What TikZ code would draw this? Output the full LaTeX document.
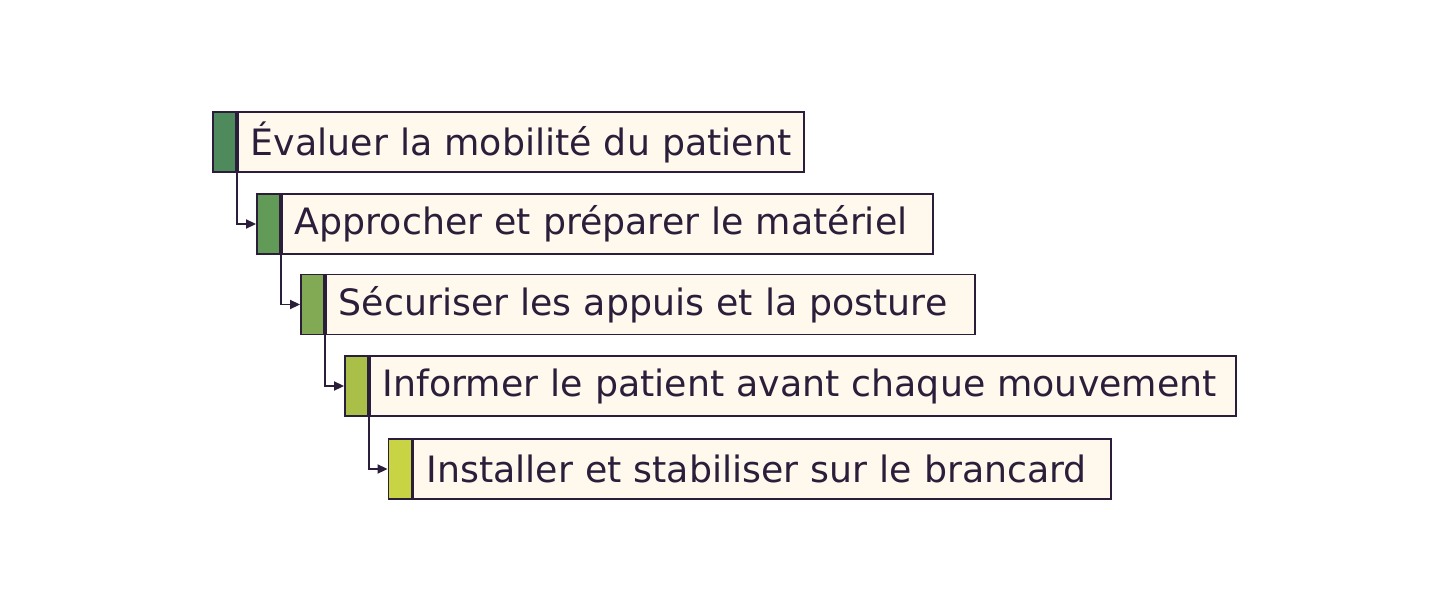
\documentclass[tikz,border=0pt]{standalone}
\usepackage{fontspec}
\setmainfont{DejaVu Sans}
\usetikzlibrary{arrows.meta}
\definecolor{ink}{HTML}{2A1E3A}
\definecolor{paper}{HTML}{FFF8EC}
\definecolor{cA}{HTML}{4E8A5C}
\definecolor{cB}{HTML}{629B58}
\definecolor{cC}{HTML}{82AA55}
\definecolor{cD}{HTML}{A9BF47}
\definecolor{cE}{HTML}{C9D445}
\tikzset{
  bar/.style={draw=ink, line width=1.9pt, minimum width=23pt, minimum height=60pt, inner sep=0pt},
  label/.style={draw=ink, fill=paper, line width=1.9pt, anchor=west, minimum height=60pt,
    inner xsep=13pt, inner ysep=0pt, text=ink, font=\fontsize{36.3}{42}\selectfont, align=left},
  conn/.style={draw=ink, line width=1.9pt, -{Triangle[length=10pt,width=9pt]}}
}
\begin{document}
\begin{tikzpicture}[x=1pt,y=-1pt]
\useasboundingbox (0,0) rectangle (1448,615);
\fill[white] (0,0) rectangle (1448,615);
\node[bar, fill=cA] (b1) at (224.5,142) {};
\node[label, text width=540pt] (t1) at (b1.east) {\mbox{Évaluer la mobilité du patient}};
\node[bar, fill=cB] (b2) at (268.5,224) {};
\node[label, text width=625pt] (t2) at (b2.east) {\mbox{Approcher et préparer le matériel}};
\node[bar, fill=cC] (b3) at (312.5,304.5) {};
\node[label, text width=623pt] (t3) at (b3.east) {\mbox{Sécuriser les appuis et la posture}};
\node[bar, fill=cD] (b4) at (356.5,386) {};
\node[label, text width=840pt] (t4) at (b4.east) {\mbox{Informer le patient avant chaque mouvement}};
\node[bar, fill=cE] (b5) at (400,469) {};
\node[label, text width=672pt] (t5) at (b5.east) {\mbox{Installer et stabiliser sur le brancard}};
\draw[conn] (b1.south east) |- (b2.west);
\draw[conn] (b2.south east) |- (b3.west);
\draw[conn] (b3.south east) |- (b4.west);
\draw[conn] (b4.south east) |- (b5.west);
\end{tikzpicture}
\end{document}
